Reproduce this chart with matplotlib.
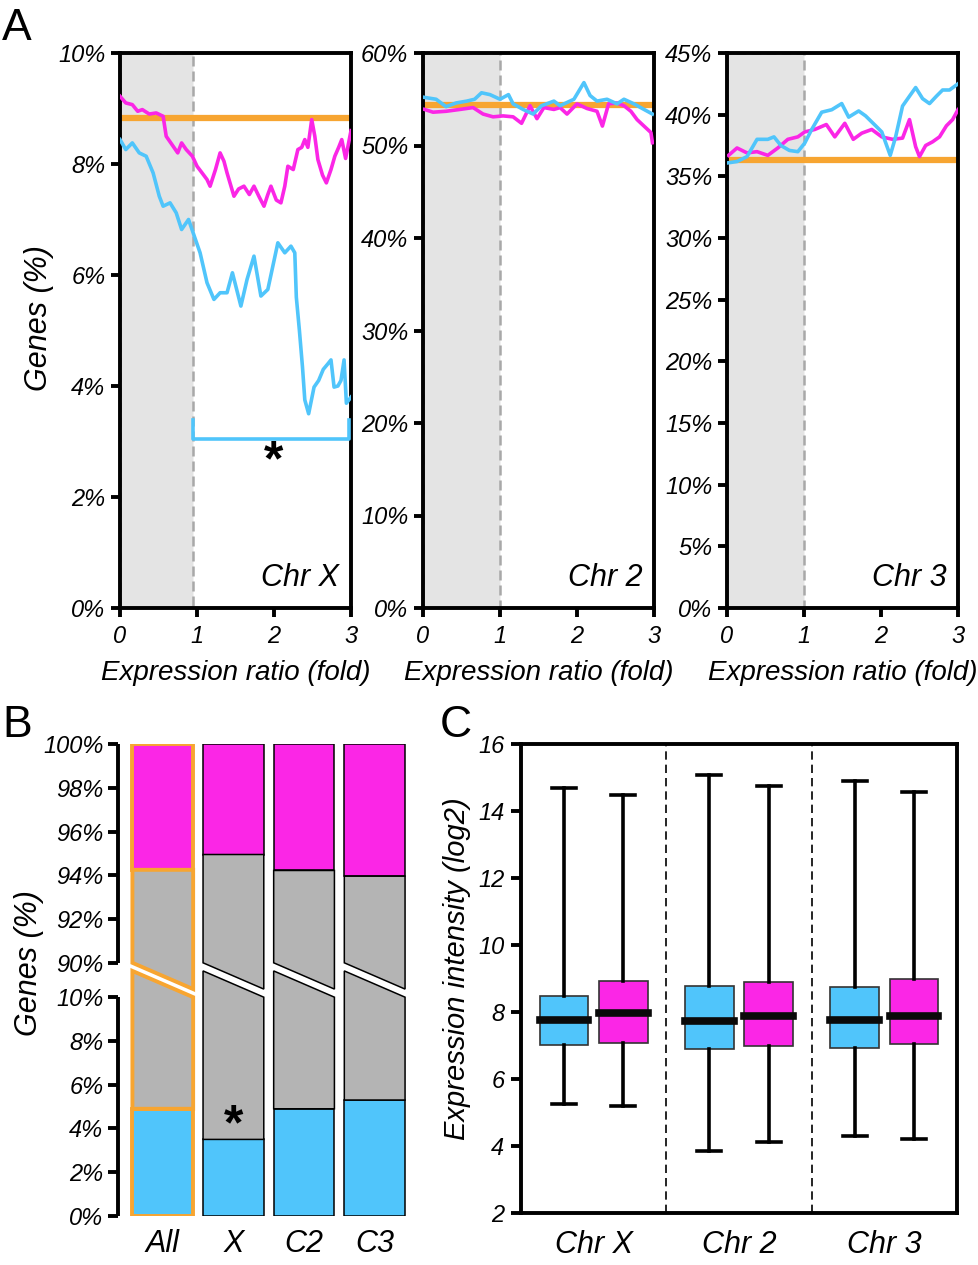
import numpy as np
import matplotlib
matplotlib.use('Agg')
import matplotlib.pyplot as plt

plt.rcParams['font.family'] = ['Liberation Sans', 'DejaVu Sans']
plt.rcParams['font.style'] = 'italic'

CYAN = '#50c5fb'
MAGENTA = '#fb26e6'
ORANGE = '#f7a531'
GREY = '#b4b4b4'
SHADE = '#e4e4e4'

# ---- panel A : running percentage of genes per chromosome ----
chrx_mag_x = [0.0, 0.075, 0.16, 0.23, 0.29, 0.38, 0.47, 0.56, 0.60, 0.69, 0.75, 0.80, 0.86, 0.94,
              1.0, 1.06, 1.13, 1.17, 1.24, 1.30, 1.35, 1.39, 1.48, 1.54, 1.61, 1.68, 1.74, 1.81,
              1.87, 1.92, 1.96, 2.03, 2.09, 2.14, 2.18, 2.25, 2.31, 2.36, 2.40, 2.44, 2.49, 2.53,
              2.57, 2.63, 2.68, 2.74, 2.79, 2.84, 2.88, 2.93, 3.0]
chrx_mag_y = [9.22, 9.1, 9.07, 8.95, 8.98, 8.9, 8.92, 8.86, 8.5, 8.32, 8.2, 8.38, 8.26, 8.14,
              7.96, 7.85, 7.72, 7.6, 7.9, 8.2, 8.05, 7.84, 7.42, 7.55, 7.6, 7.45, 7.6, 7.4,
              7.24, 7.45, 7.6, 7.35, 7.3, 7.6, 7.96, 7.9, 8.26, 8.3, 8.44, 8.3, 8.8, 8.5,
              8.08, 7.8, 7.66, 7.9, 8.14, 8.3, 8.44, 8.1, 8.6]
chrx_cyan_x = [0.0, 0.075, 0.16, 0.25, 0.34, 0.43, 0.51, 0.56, 0.65, 0.73, 0.80, 0.89, 0.95,
               1.04, 1.13, 1.22, 1.30, 1.39, 1.46, 1.57, 1.65, 1.74, 1.83, 1.92, 2.05, 2.14,
               2.22, 2.27, 2.29, 2.33, 2.37, 2.40, 2.45, 2.52, 2.58, 2.64, 2.70, 2.74, 2.78,
               2.83, 2.87, 2.91, 2.94, 3.0]
chrx_cyan_y = [8.44, 8.26, 8.38, 8.2, 8.14, 7.84, 7.42, 7.24, 7.3, 7.12, 6.82, 7.0, 6.76,
               6.4, 5.86, 5.56, 5.68, 5.68, 6.04, 5.44, 5.92, 6.34, 5.62, 5.74, 6.58, 6.4,
               6.52, 6.4, 5.6, 5.0, 4.34, 3.75, 3.5, 3.98, 4.1, 4.3, 4.4, 4.47, 3.98,
               4.0, 4.1, 4.47, 3.69, 3.8]

chr2_cyan_x = [0.02, 0.17, 0.30, 0.43, 0.57, 0.67, 0.76, 0.87, 1.0, 1.11, 1.17, 1.30, 1.43,
               1.54, 1.70, 1.78, 1.96, 2.09, 2.17, 2.26, 2.39, 2.52, 2.61, 2.74, 2.87, 2.98]
chr2_cyan_y = [55.2, 55.0, 54.2, 54.6, 54.8, 55.0, 55.7, 55.5, 55.0, 55.5, 54.5, 53.9, 53.4,
               54.3, 54.8, 54.3, 55.0, 56.8, 55.4, 54.8, 55.0, 54.5, 55.0, 54.5, 53.9, 53.4]
chr2_mag_x = [0.02, 0.13, 0.30, 0.48, 0.65, 0.78, 0.91, 1.04, 1.17, 1.28, 1.39, 1.48, 1.57,
              1.70, 1.78, 1.87, 2.0, 2.13, 2.26, 2.33, 2.41, 2.52, 2.61, 2.70, 2.78, 2.87,
              2.96, 2.98]
chr2_mag_y = [53.9, 53.6, 53.7, 53.9, 54.1, 53.4, 53.1, 53.2, 53.1, 52.4, 54.3, 52.9, 54.1,
              53.9, 54.1, 53.4, 54.5, 54.0, 53.7, 52.1, 54.5, 54.6, 54.3, 53.7, 52.8, 52.1,
              51.4, 50.3]

chr3_cyan_x = [0.02, 0.13, 0.26, 0.39, 0.53, 0.61, 0.70, 0.81, 0.92, 1.01, 1.10, 1.23, 1.36,
               1.49, 1.58, 1.71, 1.80, 1.93, 2.01, 2.12, 2.19, 2.28, 2.37, 2.45, 2.54, 2.63,
               2.72, 2.80, 2.89, 3.0]
chr3_cyan_y = [36.1, 36.2, 36.6, 38.0, 38.0, 38.2, 37.5, 37.1, 37.0, 37.7, 38.8, 40.2, 40.4,
               40.9, 39.8, 40.3, 39.9, 39.1, 38.6, 36.7, 38.2, 40.7, 41.5, 42.2, 41.3, 40.9,
               41.5, 42.0, 42.0, 42.5]
chr3_mag_x = [0.02, 0.13, 0.26, 0.39, 0.53, 0.66, 0.79, 0.92, 1.01, 1.14, 1.29, 1.40, 1.53,
              1.64, 1.75, 1.88, 2.01, 2.15, 2.28, 2.37, 2.45, 2.50, 2.58, 2.67, 2.76, 2.85,
              2.93, 3.0]
chr3_mag_y = [36.7, 37.3, 36.9, 37.0, 36.7, 37.3, 38.0, 38.2, 38.6, 38.8, 39.2, 38.2, 39.3,
              38.0, 38.5, 38.8, 38.2, 38.0, 38.1, 39.6, 37.4, 36.6, 37.5, 37.8, 38.2, 39.1,
              39.6, 40.4]

chr_names = ['Chr X', 'Chr 2', 'Chr 3']
orange_level = [8.83, 54.35, 36.35]
y_max = [10, 60, 45]
y_step = [2, 10, 5]
shade_end = [0.95, 1.0, 1.0]

# ---- panel B : stacked categories (%) ----
bar_labels = ['All', 'X', 'C2', 'C3']
blue_top = [4.9, 3.5, 4.9, 5.3]
magenta_bottom = [94.25, 94.95, 94.22, 93.96]

# ---- panel C : expression box plots (whislo, q1, med, q3, whishi) ----
box_groups = ['Chr X', 'Chr 2', 'Chr 3']
cyan_boxes = [(5.25, 7.01, 7.77, 8.49, 14.68),
              (3.85, 6.91, 7.73, 8.77, 15.07),
              (4.31, 6.94, 7.77, 8.74, 14.91)]
magenta_boxes = [(5.19, 7.08, 7.96, 8.93, 14.48),
                 (4.13, 6.98, 7.87, 8.90, 14.76),
                 (4.21, 7.04, 7.89, 8.98, 14.56)]

W, H = 979, 1265
fig = plt.figure(figsize=(W / 100, H / 100), dpi=100)

series = [(chrx_cyan_x, chrx_cyan_y, chrx_mag_x, chrx_mag_y),
          (chr2_cyan_x, chr2_cyan_y, chr2_mag_x, chr2_mag_y),
          (chr3_cyan_x, chr3_cyan_y, chr3_mag_x, chr3_mag_y)]

for i, left in enumerate([120, 423, 727]):
    ax = fig.add_axes([left / W, 1 - 608 / H, 231 / W, 555 / H])
    cx, cy, mx, my = series[i]
    ax.axvspan(0, shade_end[i], facecolor=SHADE, edgecolor='#a8a8a8', ls=(0, (4, 2)), lw=1.8, zorder=0)
    ax.axhline(orange_level[i], color=ORANGE, lw=4.5, zorder=2)
    ax.plot(mx, my, color=MAGENTA, lw=2.6, zorder=3)
    ax.plot(cx, cy, color=CYAN, lw=2.6, zorder=4)
    ax.set_xlim(0, 3)
    ax.set_ylim(0, y_max[i])
    ticks = np.arange(0, y_max[i] + 0.1, y_step[i])
    ax.set_yticks(ticks)
    ax.set_yticklabels([f'{int(t)}%' for t in ticks])
    ax.set_xticks([0, 1, 2, 3])
    for s in ax.spines.values():
        s.set_linewidth(2.8)
    ax.tick_params(direction='out', length=6.5, width=2.8, labelsize=17, pad=4)
    ax.tick_params(axis='x', pad=6)
    ax.set_xlabel('Expression ratio (fold)', fontsize=20, va='center')
    ax.xaxis.set_label_coords(0.5, -0.117)
    ax.text(0.95, 0.04, chr_names[i], transform=ax.transAxes, ha='right', va='baseline', fontsize=22)
    if i == 0:
        ax.set_ylabel('Genes (%)', fontsize=22, va='center')
        ax.yaxis.set_label_coords(-0.352, 0.5225)
        ax.plot([0.95, 0.95, 2.98, 2.98], [3.39, 3.04, 3.04, 3.39], color=CYAN, lw=2.6, zorder=4)
        ax.text(2.0, 2.62, '*', fontsize=36, fontweight='bold', style='normal', ha='center', va='center')

# ---- panel B ----
GAP = 1.57
DROP = 1.2


def to_u(v):
    return v if v <= 10 else v - 90 + 10 + GAP


axB = fig.add_axes([118 / W, 1 - 1216 / H, 292 / W, 472 / H])
bw = 0.86
for i in range(len(bar_labels)):
    edge = ORANGE if i == 0 else 'black'
    elw = 2.8 if i == 0 else 1.1
    x0, x1 = i - bw / 2, i + bw / 2
    b = to_u(blue_top[i])
    m = to_u(magenta_bottom[i])
    axB.bar(i, b, bw, color=CYAN, edgecolor=edge, lw=elw)
    axB.bar(i, to_u(100) - m, bw, bottom=m, color=MAGENTA, edgecolor=edge, lw=elw)
    axB.fill([x0, x1, x1, x0], [b, b, 10, 10 + DROP], facecolor=GREY, edgecolor=edge, lw=elw)
    axB.fill([x0, x1, x1, x0], [10 + GAP, 10 + GAP - DROP, m, m], facecolor=GREY, edgecolor=edge, lw=elw)
axB.set_xlim(-0.634, 3.5)
axB.set_ylim(0, 20 + GAP)
for s in axB.spines.values():
    s.set_visible(False)
yax = axB.get_yaxis_transform()
axB.plot([0, 0], [0, 10], transform=yax, color='black', lw=2.8, clip_on=False, solid_capstyle='butt')
axB.plot([0, 0], [10 + GAP, 20 + GAP], transform=yax, color='black', lw=2.8, clip_on=False, solid_capstyle='butt')
tick_vals = [0, 2, 4, 6, 8, 10, 90, 92, 94, 96, 98, 100]
axB.set_yticks([to_u(v) for v in tick_vals])
axB.set_yticklabels([f'{v}%' for v in tick_vals])
axB.tick_params(axis='y', direction='out', length=7, width=2.8, labelsize=17, pad=3.5)
axB.set_xticks(range(len(bar_labels)))
axB.set_xticklabels(bar_labels)
axB.tick_params(axis='x', length=0, labelsize=22, pad=9)
axB.set_ylabel('Genes (%)', fontsize=22, va='center')
axB.yaxis.set_label_coords(-0.306, 0.536)
axB.text(1, 4.1, '*', fontsize=36, fontweight='bold', style='normal', ha='center', va='center')

# ---- panel C ----
axC = fig.add_axes([521 / W, 1 - 1213 / H, 436 / W, 469 / H])
for boxes, col, off in [(cyan_boxes, CYAN, -0.205), (magenta_boxes, MAGENTA, 0.205)]:
    stats = [dict(whislo=b[0], q1=b[1], med=b[2], q3=b[3], whishi=b[4], fliers=[]) for b in boxes]
    axC.bxp(stats, positions=np.arange(len(boxes)) + off, widths=0.335, patch_artist=True,
            showfliers=False, manage_ticks=False, capwidths=0.165,
            boxprops=dict(facecolor=col, edgecolor='#333333', lw=1.2),
            whiskerprops=dict(color='black', lw=2.6),
            capprops=dict(color='black', lw=2.6),
            medianprops=dict(color='#0a0a0a', lw=5.5, solid_capstyle='projecting'))
for xv in [0.5, 1.5]:
    axC.axvline(xv, color='black', lw=1.2, ls=(0, (5, 3)))
axC.set_xlim(-0.5, 2.5)
axC.set_ylim(2, 16)
axC.set_yticks(range(2, 17, 2))
axC.set_xticks(range(len(box_groups)))
axC.set_xticklabels(box_groups)
for s in axC.spines.values():
    s.set_linewidth(2.8)
axC.tick_params(axis='y', direction='out', length=7, width=2.8, labelsize=17, pad=5)
axC.tick_params(axis='x', length=0, labelsize=22, pad=12)
axC.set_ylabel('Expression intensity (log2)', fontsize=21, va='center')
axC.yaxis.set_label_coords(-0.147, 0.52)

# panel letters
fig.text(2 / W, 1 - 40 / H, 'A', fontsize=32, style='normal', va='baseline')
fig.text(2 / W, 1 - 737 / H, 'B', fontsize=32, style='normal', va='baseline')
fig.text(440 / W, 1 - 737 / H, 'C', fontsize=32, style='normal', va='baseline')

fig.savefig('out.png', dpi=100)
